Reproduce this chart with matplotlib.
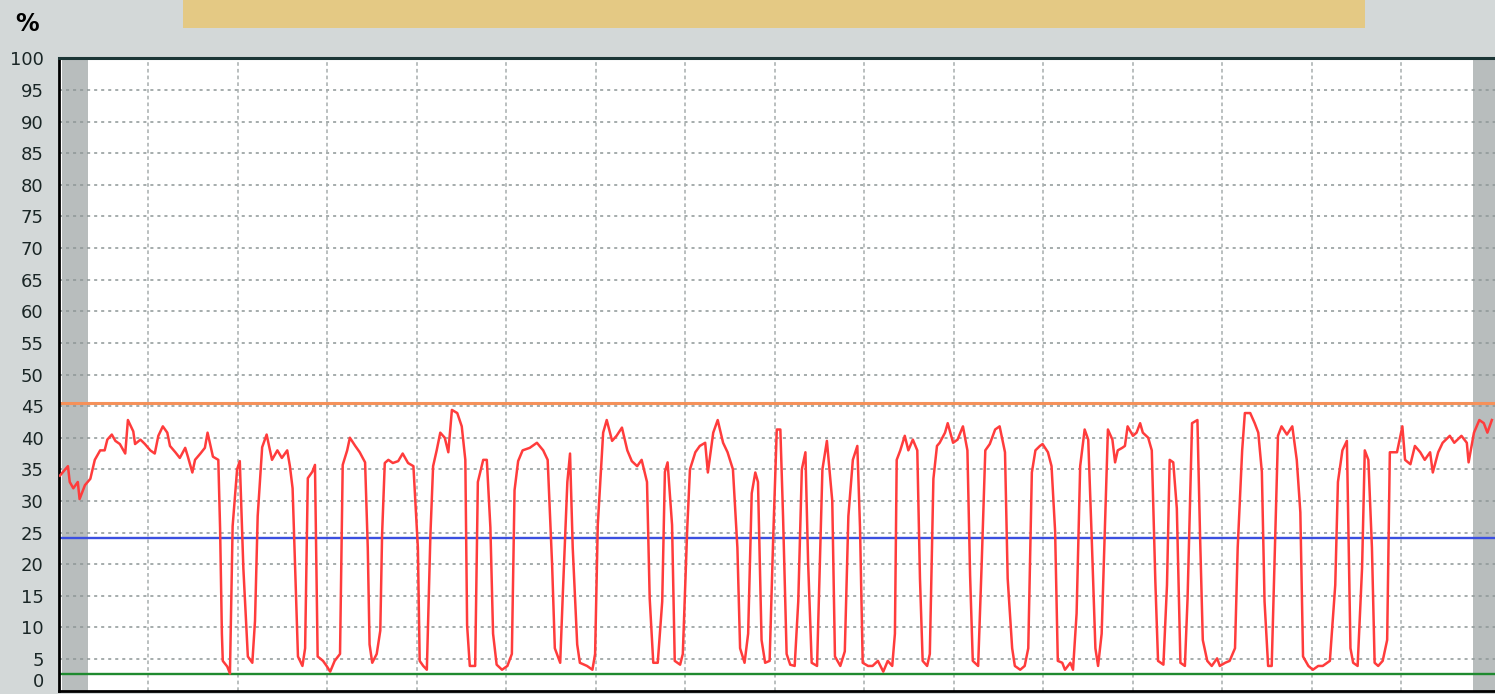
import matplotlib.pyplot as plt
from matplotlib.patches import Rectangle

# load trace, time in hours and load in percent
hours = [0.01, 0.10, 0.12, 0.16, 0.21, 0.23, 0.29, 0.35, 0.40, 0.46, 0.51, 0.54, 0.59, 0.63, 0.68, 0.74,
         0.77, 0.83, 0.85, 0.91, 0.96, 1.02, 1.07, 1.11, 1.16, 1.21, 1.24, 1.30, 1.35, 1.41, 1.44, 1.49,
         1.52, 1.58, 1.63, 1.66, 1.72, 1.78, 1.80, 1.82, 1.83, 1.88, 1.91, 1.94, 1.99, 2.02, 2.06, 2.11,
         2.16, 2.19, 2.22, 2.27, 2.32, 2.38, 2.44, 2.49, 2.55, 2.58, 2.61, 2.67, 2.72, 2.75, 2.78, 2.83,
         2.86, 2.89, 2.95, 2.99, 3.03, 3.08, 3.14, 3.17, 3.22, 3.25, 3.31, 3.36, 3.42, 3.45, 3.47, 3.50,
         3.55, 3.59, 3.61, 3.64, 3.68, 3.73, 3.79, 3.84, 3.90, 3.96, 4.01, 4.03, 4.07, 4.11, 4.15, 4.18,
         4.22, 4.26, 4.31, 4.35, 4.39, 4.45, 4.50, 4.54, 4.56, 4.59, 4.65, 4.68, 4.74, 4.78, 4.82, 4.85,
         4.89, 4.95, 5.01, 5.06, 5.09, 5.13, 5.18, 5.26, 5.34, 5.41, 5.46, 5.51, 5.54, 5.60, 5.63, 5.68,
         5.71, 5.74, 5.79, 5.82, 5.90, 5.96, 5.99, 6.02, 6.08, 6.12, 6.18, 6.23, 6.29, 6.35, 6.40, 6.46,
         6.51, 6.57, 6.60, 6.64, 6.69, 6.74, 6.77, 6.80, 6.85, 6.88, 6.94, 6.97, 7.02, 7.05, 7.11, 7.16,
         7.22, 7.25, 7.31, 7.36, 7.42, 7.47, 7.53, 7.58, 7.61, 7.66, 7.70, 7.74, 7.78, 7.81, 7.85, 7.89,
         7.94, 7.98, 8.02, 8.06, 8.09, 8.13, 8.17, 8.22, 8.26, 8.30, 8.34, 8.37, 8.41, 8.47, 8.53, 8.58,
         8.64, 8.67, 8.73, 8.78, 8.82, 8.87, 8.92, 8.95, 8.98, 9.04, 9.09, 9.15, 9.21, 9.26, 9.31, 9.34,
         9.36, 9.40, 9.45, 9.49, 9.54, 9.59, 9.62, 9.65, 9.70, 9.73, 9.77, 9.81, 9.84, 9.90, 9.93, 9.99,
         10.04, 10.10, 10.15, 10.18, 10.21, 10.27, 10.31, 10.35, 10.40, 10.46, 10.51, 10.57, 10.60, 10.65,
         10.68, 10.74, 10.79, 10.83, 10.87, 10.91, 10.96, 10.99, 11.05, 11.09, 11.13, 11.16, 11.21, 11.24,
         11.30, 11.33, 11.37, 11.41, 11.46, 11.50, 11.54, 11.58, 11.61, 11.65, 11.69, 11.72, 11.77, 11.80,
         11.83, 11.88, 11.91, 11.94, 12.00, 12.04, 12.08, 12.11, 12.17, 12.21, 12.25, 12.28, 12.34, 12.38,
         12.41, 12.45, 12.49, 12.53, 12.58, 12.61, 12.66, 12.72, 12.75, 12.78, 12.83, 12.88, 12.94, 12.97,
         13.03, 13.08, 13.14, 13.17, 13.22, 13.25, 13.31, 13.36, 13.40, 13.44, 13.47, 13.51, 13.55, 13.59,
         13.62, 13.66, 13.72, 13.78, 13.83, 13.87, 13.90, 13.96, 14.01, 14.07, 14.12, 14.20, 14.26, 14.29,
         14.34, 14.39, 14.43, 14.46, 14.51, 14.56, 14.59, 14.63, 14.67, 14.70, 14.74, 14.79, 14.84, 14.87,
         14.95, 15.01, 15.04, 15.10, 15.15, 15.21, 15.26, 15.32, 15.35, 15.41, 15.46, 15.54, 15.59, 15.67,
         15.73, 15.75, 15.81, 15.87, 15.92, 15.96, 16.01]
load = [34, 35.5, 33, 32, 33, 30.3, 32.5, 33.5, 36.5, 38, 38, 39.7, 40.5, 39.5, 39, 37.5,
        42.8, 41, 39, 39.7, 39, 38, 37.5, 40.3, 41.8, 40.8, 38.7, 37.7, 36.8, 38.4, 37, 34.5,
        36.5, 37.5, 38.4, 40.8, 37, 36.5, 25.6, 9, 4.7, 3.8, 2.7, 26, 35, 36.3, 19.3, 5.4,
        4.4, 11, 27.6, 38.5, 40.5, 36.5, 38, 36.8, 38, 35.5, 32, 5.4, 3.9, 6.7, 33.6, 34.6,
        35.7, 5.4, 4.7, 3.9, 3.0, 4.7, 5.8, 35.7, 38, 40, 38.7, 37.7, 36.1, 22.6, 7.3, 4.4,
        5.8, 9.5, 24.7, 36, 36.5, 36, 36.3, 37.5, 36, 35.5, 22.6, 4.7, 3.9, 3.3, 24.7, 35.5,
        38, 40.8, 40, 37.7, 44.4, 43.9, 41.8, 36.5, 10.3, 3.9, 3.9, 33, 36.5, 36.5, 25.8, 9,
        4.1, 3.3, 3.9, 5.8, 31.7, 36.3, 38, 38.4, 39.2, 38, 36.5, 19.8, 6.7, 4.4, 15.5, 33,
        37.5, 22.6, 7.3, 4.4, 3.9, 3.3, 5.8, 26.2, 40.8, 42.8, 39.5, 40.3, 41.6, 38, 36.3, 35.5,
        36.5, 33, 14.6, 4.4, 4.4, 14.1, 34.6, 36.1, 26.2, 4.7, 4.1, 5.8, 25.8, 35, 37.7, 38.7,
        39.2, 34.5, 40.8, 42.8, 39.2, 37.7, 35, 22.6, 6.7, 4.4, 9, 31.2, 34.5, 33, 8, 4.4,
        4.7, 24.2, 41.3, 41.3, 27.6, 5.8, 4.1, 3.9, 14.1, 35, 37.7, 20.3, 4.4, 3.9, 35, 39.5,
        30, 5.4, 3.9, 6.2, 27.6, 36.5, 38.7, 25.8, 4.4, 3.9, 3.9, 4.7, 3.0, 4.7, 3.9, 9,
        36.5, 38, 40.3, 38, 39.7, 38, 17.7, 4.7, 3.9, 5.8, 33.5, 38.7, 39.2, 40.8, 42.3, 39.2,
        39.7, 41.8, 38, 18.2, 4.7, 3.9, 20.3, 38, 39, 41.3, 41.8, 37.7, 17.7, 6.7,
        3.9, 3.3, 3.9, 6.7, 34.5, 38, 38.7, 39, 37.7, 35.5, 25.2, 4.7, 4.4, 3.3,
        4.4, 3.3, 12.2, 35.5, 41.3, 39.7, 23.7, 6.7, 3.9, 9, 27.6, 41.3, 39.7, 36.1,
        38, 38.4, 38.7, 41.8, 40.3, 40.8, 42.3, 40.8, 40, 38, 17.2, 4.7, 4.1, 16.7,
        36.5, 36.1, 28.8, 4.4, 3.9, 14.6, 42.3, 42.8, 24.2, 8, 4.7, 3.9, 5.1, 3.9,
        4.4, 4.7, 6.7, 22.6, 38, 43.9, 43.9, 42.3, 40.8, 34.6, 14.1, 3.9, 3.9, 24.7,
        40.3, 41.8, 40.5, 41.8, 36.5, 28.2, 5.4, 3.9, 3.3, 3.9, 3.9, 4.7, 16.7, 33,
        38, 39.5, 6.7, 4.4, 3.9, 19.5, 38, 36.5, 22.6, 4.4, 3.9, 4.7, 8, 37.7,
        37.7, 41.8, 36.5, 35.8, 38.7, 37.7, 36.5, 37.7, 34.5, 37.7, 39.2, 40.3, 39.2, 40.3,
        39.2, 36.1, 40.8, 42.8, 42.3, 40.8, 42.8]

# reference levels
upper_limit = 45.5
average_level = 24.1
lower_limit = 2.6

y_ticks = list(range(0, 101, 5))
x_grid = list(range(1, 16))

bg = '#d3d8d8'
fig = plt.figure(figsize=(14.95, 6.94), dpi=100, facecolor=bg)

# title banner strip
fig.add_artist(Rectangle((183 / 1495, 1 - 28 / 694), 1182 / 1495, 28 / 694,
                         transform=fig.transFigure, facecolor='#e4c984', edgecolor='none'))

ax = fig.add_axes([59 / 1495, 3.4 / 694, 1436 / 1495, 632.2 / 694])
ax.set_facecolor('white')
ax.set_xlim(0, 16.045)
ax.set_ylim(0, 100)

# shaded edges of the time window
ax.axvspan(0.03, 0.32, color='#b8bdbd', lw=0, zorder=0.5)
ax.axvspan(15.8, 16.1, color='#b8bdbd', lw=0, zorder=0.5)

for v in y_ticks[1:-1]:
    ax.axhline(v, color='#8d9696', lw=1.1, dashes=(2.0, 2.6), zorder=1)
for h in x_grid:
    ax.axvline(h, color='#a7aeae', lw=1.1, dashes=(2.4, 2.0), zorder=1)

ax.axhline(upper_limit, color='#f5915a', lw=2.2, zorder=2)
ax.axhline(average_level, color='#3b4fe0', lw=1.7, zorder=2)
ax.axhline(lower_limit, color='#1f8a2f', lw=1.7, zorder=2)

ax.plot(hours, load, color='#ff3c3c', lw=1.8, zorder=3)

ax.set_yticks(y_ticks)
ax.set_yticklabels([str(v) for v in y_ticks], fontsize=13, color='#1a2626')
ax.tick_params(axis='y', length=0, pad=11)
ax.set_xticks([])
# keep the bottom label inside the canvas
ax.get_yticklabels()[0].set_va('bottom')

for side in ['left', 'bottom']:
    ax.spines[side].set_color('black')
    ax.spines[side].set_linewidth(2)
ax.spines['top'].set_color('#1c3636')
ax.spines['top'].set_linewidth(2.2)
ax.spines['right'].set_visible(False)

fig.text(15 / 1495, 1 - 24 / 694, '%', fontsize=17, color='black', va='center', fontweight='bold')

fig.savefig('out.png', dpi=100, facecolor=bg)
